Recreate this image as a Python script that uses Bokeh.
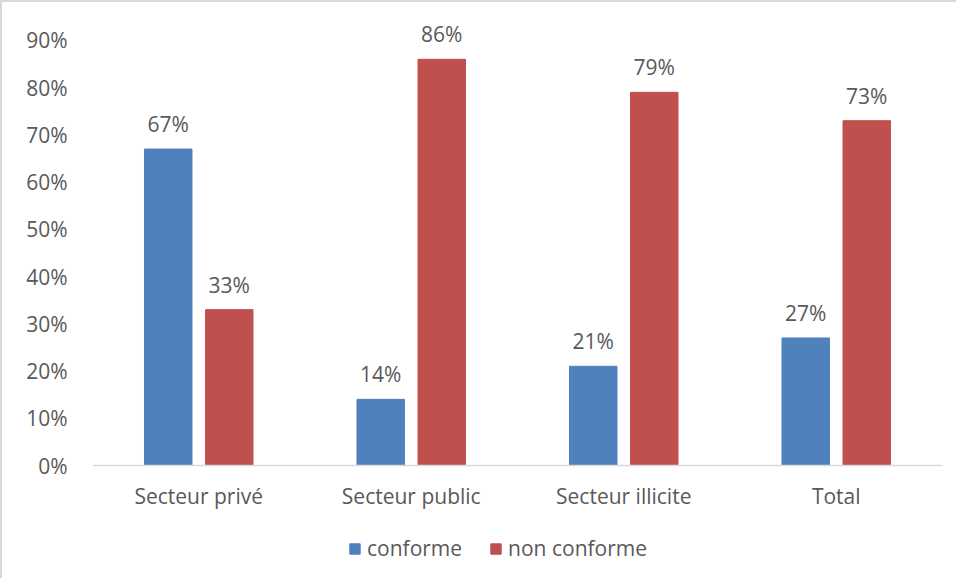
from bokeh.plotting import figure
from bokeh.models import (ColumnDataSource, FactorRange, Range1d, LabelSet, Legend, LegendItem,
                          PrintfTickFormatter, FixedTicker, Span)
from bokeh.core.properties import value
from bokeh.transform import dodge
from bokeh.embed import file_html
from bokeh.resources import INLINE

categories = ["Secteur privé", "Secteur public", "Secteur illicite", "Total"]
conforme = [67, 14, 21, 27]
non_conforme = [33, 86, 79, 73]
series_names = ["conforme", "non conforme"]
y_ticks = [0, 10, 20, 30, 40, 50, 60, 70, 80, 90]

BLUE = "#4F81BD"
RED = "#C0504D"
TEXT = "#595959"
FONT = "Open Sans"
FS = "21px"

src = ColumnDataSource(dict(
    cat=categories,
    conf=conforme,
    nonc=non_conforme,
    conf_lbl=[f"{v}%" for v in conforme],
    nonc_lbl=[f"{v}%" for v in non_conforme],
))

# layout: value axis 0..94 spans 444 px; the frame continues below 0 for the
# category labels and the legend
Y_TOP = 94
PX_VALUE = 444
FRAME_H = 557
y_bottom = Y_TOP - FRAME_H * Y_TOP / PX_VALUE

p = figure(
    frame_width=850, frame_height=FRAME_H,
    x_range=FactorRange(factors=categories, range_padding=0),
    y_range=Range1d(y_bottom, Y_TOP),
    output_backend="svg", toolbar_location=None,
    min_border_left=90, min_border_right=14, min_border_top=19, min_border_bottom=0,
)
p.styles = {"border-left": "2px solid #d9d9d9", "border-top": "2px solid #d9d9d9"}

off = 0.1436
bw = 0.2235
r1 = p.vbar(x=dodge("cat", -off, range=p.x_range), top="conf", bottom=0, width=bw, source=src,
            fill_color=BLUE, line_color=BLUE)
r2 = p.vbar(x=dodge("cat", off, range=p.x_range), top="nonc", bottom=0, width=bw, source=src,
            fill_color=RED, line_color=RED)

for col, lbl, o in (("conf", "conf_lbl", -off), ("nonc", "nonc_lbl", off)):
    ls = LabelSet(x=dodge("cat", o, range=p.x_range), y=col, text=lbl, source=src,
                  y_offset=11, text_align="center", text_baseline="bottom",
                  text_font=value(FONT), text_font_size=value(FS), text_color=TEXT)
    p.add_layout(ls)

# category axis labels and baseline
cat_src = ColumnDataSource(dict(cat=categories, y=[0] * len(categories)))
p.add_layout(LabelSet(x="cat", y="y", text="cat", source=cat_src, y_offset=-30,
                      text_align="center", text_baseline="middle",
                      text_font=value(FONT), text_font_size=value(FS), text_color=TEXT))
p.add_layout(Span(location=0, dimension="width", line_color="#d9d9d9", line_width=1.5))

p.xgrid.visible = False
p.ygrid.visible = False
p.outline_line_color = None
p.xaxis.visible = False

p.yaxis.ticker = FixedTicker(ticks=y_ticks)
p.yaxis.formatter = PrintfTickFormatter(format="%d%%")
p.yaxis.axis_line_color = None
p.yaxis.major_tick_line_color = None
p.yaxis.minor_tick_line_color = None
p.yaxis.major_label_standoff = 19
p.yaxis.major_label_text_font = FONT
p.yaxis.major_label_text_font_size = FS
p.yaxis.major_label_text_color = TEXT

legend = Legend(items=[LegendItem(label=series_names[0], renderers=[r1]),
                       LegendItem(label=series_names[1], renderers=[r2])],
                orientation="horizontal", location=(256, 16),
                glyph_width=13, glyph_height=13, label_standoff=6, spacing=27,
                label_text_font=FONT, label_text_font_size=FS, label_text_color=TEXT,
                border_line_color=None, background_fill_alpha=0, padding=0, margin=0)
p.add_layout(legend, "center")

open("out.html", "w").write(file_html(p, INLINE))
